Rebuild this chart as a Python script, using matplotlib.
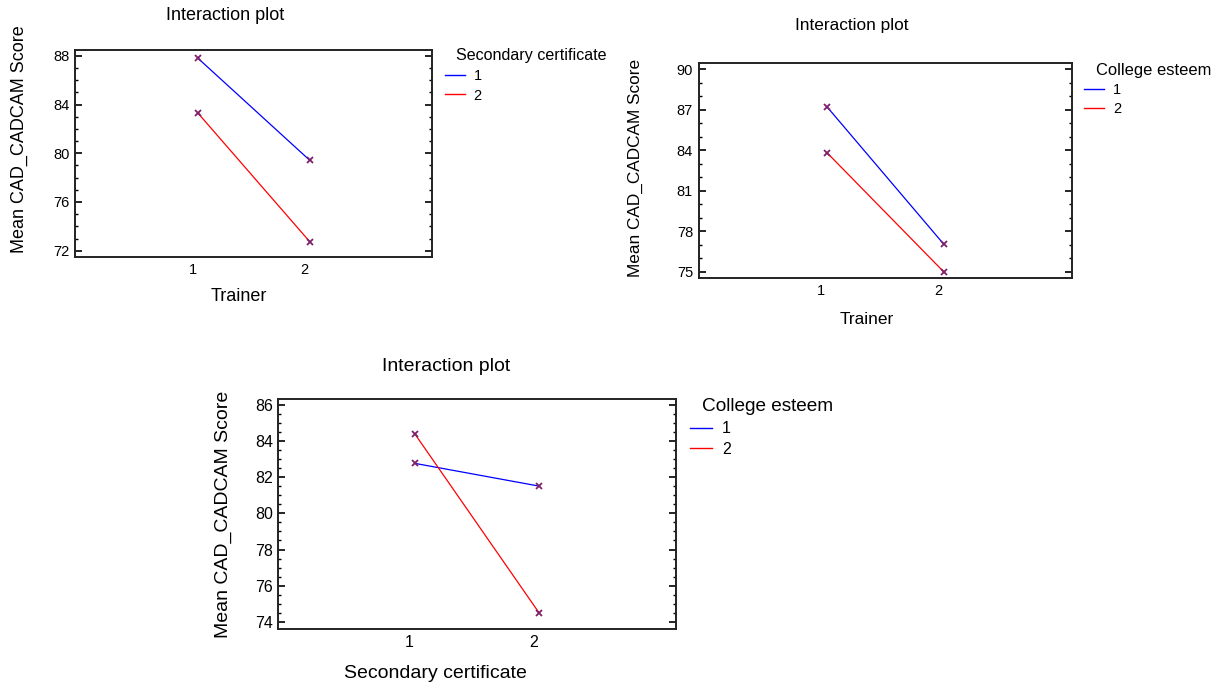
import numpy as np
import matplotlib
matplotlib.use('Agg')
import matplotlib.pyplot as plt
from matplotlib.ticker import MultipleLocator
from matplotlib.lines import Line2D
import matplotlib.transforms as mtransforms

plt.rcParams['font.family'] = ['Liberation Sans', 'DejaVu Sans']

# data
levels = [1, 2]
tick_labels = ['1', '2']

# panel 1: Trainer x Secondary certificate
p1_sec1 = [87.8, 79.43]
p1_sec2 = [83.29, 72.74]

# panel 2: Trainer x College esteem
p2_col1 = [87.21, 77.05]
p2_col2 = [83.81, 75.0]

# panel 3: Secondary certificate x College esteem
p3_col1 = [82.77, 81.51]
p3_col2 = [84.39, 74.48]

ylabel = 'Mean CAD_CADCAM Score'
blue = '#0000ff'
red = '#ff0000'
mark = '#80206a'

fig = plt.figure(figsize=(12.24, 6.89), dpi=100)


def panel(rect, s1, s2, xlab, legtitle, ylim, ymaj, ymin, fs, tfs, lfs,
          title_pos, xlab_pos, ylab_pos, leg_anchor, legtitle_pos):
    ax = fig.add_axes(rect)
    ax.plot(levels, s1, color=blue, lw=0.9, marker='x', ms=4, mew=1.3, mec=mark)
    ax.plot(levels, s2, color=red, lw=0.9, marker='x', ms=4, mew=1.3, mec=mark)
    ax.set_xlim(-0.1, 3.1)
    ax.set_ylim(*ylim)
    ax.set_xticks(levels)
    ax.set_xticklabels(tick_labels)
    ax.yaxis.set_major_locator(MultipleLocator(ymaj))
    ax.yaxis.set_minor_locator(MultipleLocator(ymin))
    ax.tick_params(axis='x', length=0, pad=4, labelsize=tfs)
    ax.tick_params(axis='y', which='major', direction='in', length=5, width=1.2,
                   left=True, right=True, labelsize=tfs, pad=4)
    ax.tick_params(axis='y', which='minor', direction='in', length=2.5, width=1.0,
                   left=True, right=True)
    # shift x tick labels slightly left like the reference
    off = mtransforms.ScaledTranslation(-4 / 72., 0, fig.dpi_scale_trans)
    for lab in ax.get_xticklabels():
        lab.set_transform(lab.get_transform() + off)
    for sp in ax.spines.values():
        sp.set_linewidth(1.4)
        sp.set_color('#222222')
    ax.text(title_pos[0], title_pos[1], 'Interaction plot', transform=ax.transAxes,
            ha='center', va='center', fontsize=fs)
    ax.text(xlab_pos[0], xlab_pos[1], xlab, transform=ax.transAxes,
            ha='center', va='center', fontsize=fs)
    ax.text(ylab_pos[0], ylab_pos[1], ylabel, transform=ax.transAxes,
            ha='center', va='center', rotation=90, fontsize=fs)
    h1 = Line2D([], [], color=blue, lw=1.0)
    h2 = Line2D([], [], color=red, lw=1.0)
    ax.legend(handles=[h1, h2], labels=['1', '2'], loc='upper left',
              bbox_to_anchor=leg_anchor, frameon=False, borderpad=0,
              borderaxespad=0, fontsize=tfs, handlelength=1.4,
              handletextpad=0.6, labelspacing=0.35)
    ax.text(legtitle_pos[0], legtitle_pos[1], legtitle, transform=ax.transAxes,
            ha='left', va='center', fontsize=lfs)
    return ax


panel([0.0616, 0.627, 0.2917, 0.3004], p1_sec1, p1_sec2, 'Trainer',
      'Secondary certificate', (71.48, 88.49), 4, 1, 13, 10.5, 11.6,
      (0.419, 1.168), (0.457, -0.192), (-0.158, 0.57), (1.034, 0.906), (1.067, 0.973))

panel([0.5708, 0.5961, 0.3049, 0.3129], p2_col1, p2_col2, 'Trainer',
      'College esteem', (74.51, 90.47), 3, 1, 12.4, 10.5, 11.9,
      (0.411, 1.172), (0.451, -0.193), (-0.169, 0.51), (1.032, 0.904), (1.065, 0.966))

panel([0.2274, 0.0871, 0.3248, 0.3334], p3_col1, p3_col2, 'Secondary certificate',
      'College esteem', (73.6, 86.32), 2, 0.5, 14, 11.5, 13.7,
      (0.423, 1.142), (0.396, -0.193), (-0.139, 0.50), (1.035, 0.905), (1.066, 0.968))

fig.savefig('out.png', dpi=100)
